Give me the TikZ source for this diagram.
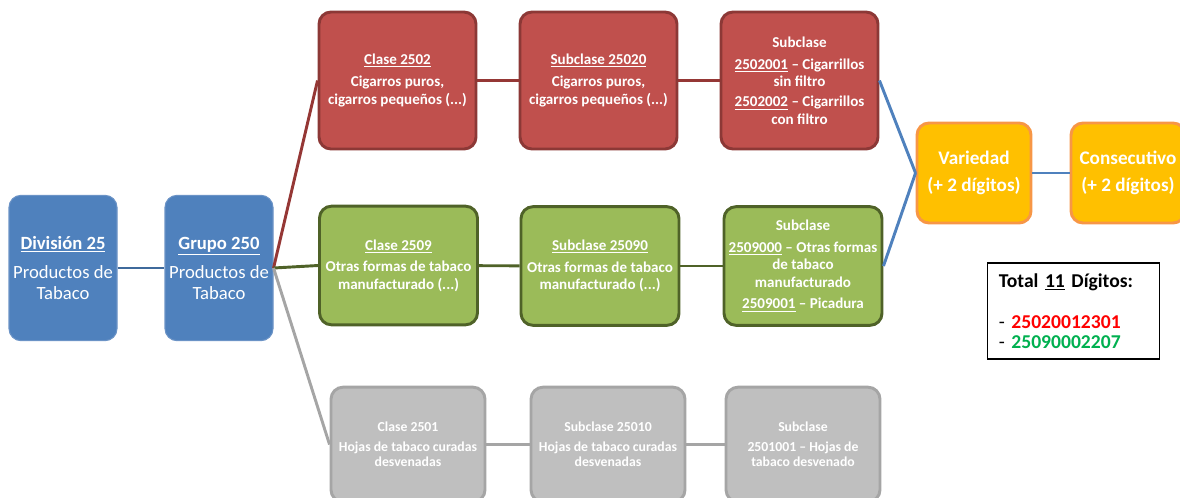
\documentclass[tikz,border=0pt]{standalone}
\usepackage{fontspec}
\setmainfont{Carlito}
\definecolor{cblue}{HTML}{4F81BD}
\definecolor{cblueb}{HTML}{6B93C6}
\definecolor{cbluel}{HTML}{3F6A9C}
\definecolor{cred}{HTML}{C0504D}
\definecolor{credb}{HTML}{8C3836}
\definecolor{credl}{HTML}{953735}
\definecolor{cgreen}{HTML}{9BBB59}
\definecolor{cgreenb}{HTML}{4F6228}
\definecolor{cgray}{HTML}{BFBFBF}
\definecolor{cgrayb}{HTML}{A5A5A5}
\definecolor{corange}{HTML}{FFC000}
\definecolor{corangeb}{HTML}{F79646}
\definecolor{tred}{HTML}{FF0000}
\definecolor{tgreen}{HTML}{00B050}
\begin{document}
\begin{tikzpicture}[x=0.75pt,y=-0.75pt,
  box/.style={rectangle, rounded corners=9pt, align=center, text=white, inner sep=0.5pt,
    font=\bfseries\fontsize{11.3}{12.9}\selectfont},
  bluebox/.style={box, fill=cblue, draw=cblueb, line width=0.8pt, minimum width=81pt, minimum height=109pt,
    font=\fontsize{14}{15.5}\selectfont},
  redbox/.style={box, fill=cred, draw=credb, line width=2.2pt, minimum width=117.75pt, minimum height=102.75pt},
  greenbox/.style={box, fill=cgreen, draw=cgreenb, line width=2.2pt, minimum width=118.5pt, minimum height=89pt},
  graybox/.style={box, fill=cgray, draw=cgrayb, line width=2.2pt, minimum width=115.5pt, minimum height=86pt,
    font=\bfseries\fontsize{10.3}{11.3}\selectfont},
  orangebox/.style={box, fill=corange, draw=corangeb, line width=2.2pt, minimum width=85.5pt, minimum height=75pt,
    font=\bfseries\fontsize{14.4}{16}\selectfont},
  totalbox/.style={rectangle, draw=black, line width=1.1pt, fill=white, align=left, text width=112pt,
    minimum width=128.25pt, minimum height=72pt, inner xsep=8.5pt, inner ysep=2pt,
    font=\bfseries\fontsize{14.7}{15}\selectfont},
  link/.style={line width=2.2pt},
]
\useasboundingbox (0,0) rectangle (1180,497);

% nodes
\node[bluebox] (div) at (63,268) {\textbf{\underline{División 25}}\\[6.5pt] Productos de\\ Tabaco};
\node[bluebox] (grp) at (219,268) {\textbf{\underline{Grupo 250}}\\[6.5pt] Productos de\\ Tabaco};

\node[redbox] (r1) at (397.5,80.5) {\underline{Clase 2502}\\[3.5pt] Cigarros puros,\\[0.5pt] cigarros pequeños (...)};
\node[redbox] (r2) at (598.5,80.5) {\underline{Subclase 25020}\\[3.5pt] Cigarros puros,\\[0.5pt] cigarros pequeños (...)};
\node[redbox] (r3) at (799.5,80.5) {Subclase\\[3.5pt] \underline{2502001} -- Cigarrillos\\ sin filtro\\[2.5pt] \underline{2502002} -- Cigarrillos\\ con filtro};

\node[greenbox] (g1) at (398.5,265.5) {\underline{Clase 2509}\\[3.5pt] Otras formas de tabaco\\ manufacturado (...)};
\node[greenbox] (g2) at (600,266) {\underline{Subclase 25090}\\[3.5pt] Otras formas de tabaco\\ manufacturado (...)};
\node[greenbox] (g3) at (803,266) {Subclase\\[3.5pt] \underline{2509000} -- Otras formas\\ de tabaco\\ manufacturado\\[3.5pt] \underline{2509001} -- Picadura};

\node[graybox] (y1) at (408,444.5) {Clase 2501\\[3.5pt] Hojas de tabaco curadas\\ desvenadas};
\node[graybox] (y2) at (608,444.5) {Subclase 25010\\[3.5pt] Hojas de tabaco curadas\\ desvenadas};
\node[graybox] (y3) at (803,444.5) {Subclase\\[3.5pt] 2501001 -- Hojas de\\ tabaco desvenado};

\node[orangebox] (var) at (974,173) {Variedad\\[4pt] (+ 2 dígitos)};
\node[orangebox] (con) at (1128,173) {Consecutivo\\[4pt] (+ 2 dígitos)};

\node[totalbox] (total) at (1073.5,311) {Total \underline{11} Dígitos:\\[16pt]
  {\mdseries -} \textcolor{tred}{25020012301}\\
  {\mdseries -} \textcolor{tgreen}{25090002207}};

% connectors
\draw[link, cbluel] (div) -- (grp);
\draw[link, credl] (grp.east) -- (r1.west);
\draw[link, cgreenb] (grp.east) -- (g1.west);
\draw[link, cgrayb] (grp.east) -- (y1.west);
\draw[link, credl] (r1) -- (r2);
\draw[link, credl] (r2) -- (r3);
\draw[link, cgreenb] (g1) -- (g2);
\draw[link, cgreenb] (g2) -- (g3);
\draw[link, cgrayb] (y1) -- (y2);
\draw[link, cgrayb] (y2) -- (y3);
\draw[link, cblue] (r3.east) -- (var.west);
\draw[link, cblue] (g3.east) -- (var.west);
\draw[link, cblue] (var) -- (con);
\end{tikzpicture}
\end{document}
